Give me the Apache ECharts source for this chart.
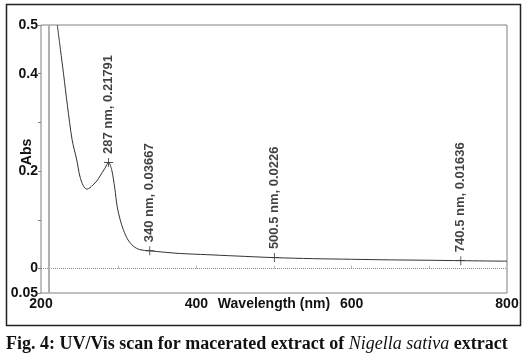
<!DOCTYPE html>
<html>
<head>
<meta charset="utf-8">
<script src="https://cdn.jsdelivr.net/npm/echarts@6/dist/echarts.min.js"></script>
<style>html,body{margin:0;padding:0;background:#fff;}#c{width:527px;height:359px;}</style>
</head>
<body>
<div id="c"></div>
<script>
const wavelengths = [221,225,229,234,240,246,250,254.5,259,263,267,272,276,282,287,291,295,298,302,306,312,319,327,340,360,380,413,450,500.5,550,600,650,700,740.5,770,800];
const absorbance = [0.50,0.45,0.40,0.335,0.265,0.223,0.19,0.17,0.163,0.166,0.172,0.18,0.19,0.205,0.2179,0.203,0.165,0.128,0.100,0.080,0.059,0.046,0.039,0.03667,0.0335,0.031,0.0287,0.026,0.0226,0.0205,0.0192,0.018,0.0172,0.01636,0.0158,0.0153];
const peakWl = [287,340,500.5,740.5];
const peakAbs = [0.21791,0.03667,0.0226,0.01636];
const peakLabels = ["287 nm, 0.21791","340 nm, 0.03667","500.5 nm, 0.0226","740.5 nm, 0.01636"];
const xLabelValues = [200,400,600,800];
const xTickValues = [300,400,500,600,700];
const yLabelValues = [-0.05,0,0.2,0.4,0.5];
const yTickValues = [-0.05,0,0.1,0.2,0.3,0.4,0.5];
const yLabelText = {"-0.05":"0.05","0":"0","0.2":"0.2","0.4":"0.4","0.5":"0.5"};
const markerWl = 210;
const captionParts = ["Fig. 4: UV/Vis scan for macerated extract of ","Nigella sativa"," extract"];

const chart = echarts.init(document.getElementById('c'), null, {renderer:'canvas'});
const font = 'Arial, "Liberation Sans", sans-serif';
chart.setOption({
  backgroundColor:'#fff',
  animation:false,
  grid:{left:41,right:20,top:25,bottom:66,containLabel:false,outerBoundsMode:'none',show:true,borderColor:'#808080',borderWidth:1,backgroundColor:'transparent'},
  xAxis:{
    type:'value',min:200,max:800,interval:100,
    axisLine:{show:false},
    splitLine:{show:false},
    axisTick:{show:true,inside:true,length:3,lineStyle:{color:'#bbb'},customValues:xTickValues},
    axisLabel:{customValues:xLabelValues,margin:4,color:'#111',fontFamily:font,fontWeight:'bold',fontSize:14},
    name:'Wavelength (nm)',nameLocation:'middle',nameGap:4,nameMoveOverlap:false,
    nameTextStyle:{color:'#111',fontFamily:font,fontWeight:'bold',fontSize:14,verticalAlign:'top'}
  },
  yAxis:{
    type:'value',min:-0.05,max:0.5,interval:0.05,
    axisLine:{show:false},
    splitLine:{show:false},
    axisTick:{show:true,length:3,lineStyle:{color:'#808080'},customValues:yTickValues},
    axisLabel:{customValues:yLabelValues,margin:3,color:'#111',fontFamily:font,fontWeight:'bold',fontSize:14,
      formatter:v=>{const k=String(Math.round(v*100)/100);return yLabelText[k]!==undefined?yLabelText[k]:'';}},
    name:'Abs',nameLocation:'middle',nameGap:7,nameMoveOverlap:false,
    nameTextStyle:{color:'#111',fontFamily:font,fontWeight:'bold',fontSize:14,padding:[0,0,0,14]}
  },
  series:[
    {
      type:'line',
      data:wavelengths.map((w,i)=>[w,absorbance[i]]),
      showSymbol:false,smooth:0.3,clip:true,
      lineStyle:{color:'#333',width:1},
      silent:true,
      markLine:{
        silent:true,symbol:'none',label:{show:false},
        data:[
          {yAxis:0,lineStyle:{type:'dotted',color:'#888',width:1}},
          {xAxis:markerWl,lineStyle:{type:'solid',color:'#b0b0b0',width:2}}
        ]
      }
    },
    {
      type:'scatter',
      data:peakWl.map((w,i)=>({value:[w,peakAbs[i]],label:{formatter:peakLabels[i]}})),
      symbol:'path://M4.5,0h1v10h-1zM0,4.5h10v1h-10z',
      symbolSize:9,
      itemStyle:{color:'#222'},
      label:{show:true,position:'top',distance:4,rotate:90,align:'left',verticalAlign:'middle',
        color:'#111',fontFamily:font,fontWeight:'bold',fontSize:13}
    }
  ],
  graphic:[
    {type:'rect',shape:{x:6.5,y:4.5,width:514,height:321},style:{fill:'none',stroke:'#222',lineWidth:1.5},silent:true},
    {type:'text',left:6,top:335,style:{
      text:'{n|'+captionParts[0]+'}{i|'+captionParts[1]+'}{n|'+captionParts[2]+'}',
      rich:{
        n:{fontFamily:'"Liberation Serif", serif',fontWeight:'bold',fontSize:18,fill:'#111'},
        i:{fontFamily:'"Liberation Serif", serif',fontStyle:'italic',fontWeight:'normal',fontSize:18,fill:'#111'}
      }}}
  ]
});
</script>
</body>
</html>
